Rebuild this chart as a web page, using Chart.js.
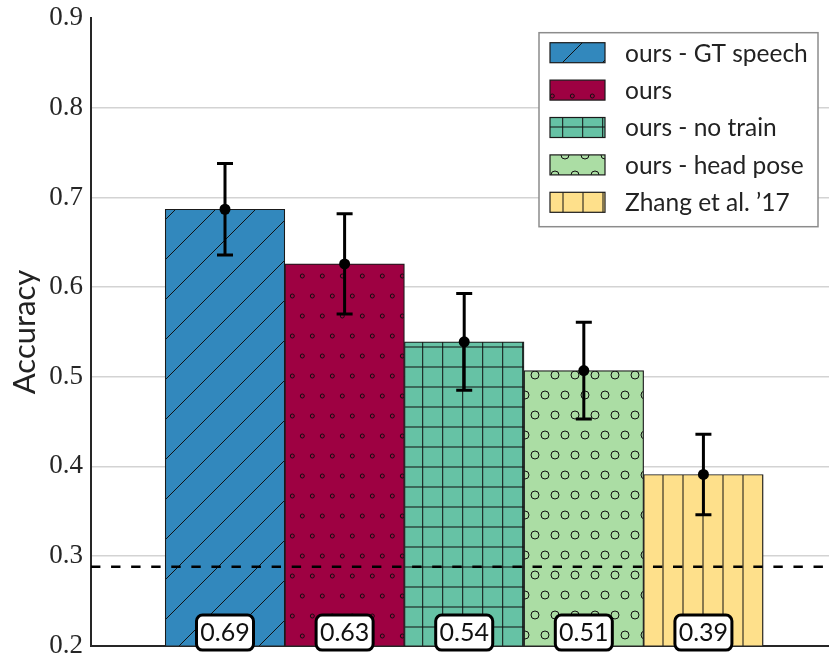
<!DOCTYPE html>
<html>
<head>
<meta charset="utf-8">
<script src="https://cdn.jsdelivr.net/npm/chart.js@4/dist/chart.umd.min.js"></script>
<style>
  html, body { margin: 0; padding: 0; background: #fff; }
  #wrap { width: 829px; height: 655px; }
</style>
</head>
<body>
<div id="wrap"><canvas id="chart" width="829" height="655"></canvas></div>
<script>
// ---- data ----
const methods = ['ours - GT speech', 'ours', 'ours - no train', 'ours - head pose', 'Zhang et al. \u201917'];
const accuracy = [0.687, 0.626, 0.539, 0.507, 0.391];
const stdErr = [0.051, 0.056, 0.054, 0.054, 0.045];
const chanceLevel = 0.288;
const yTicks = [0.2, 0.3, 0.4, 0.5, 0.6, 0.7, 0.8, 0.9];

// ---- styling ----
const fills = ['#3288bd', '#9e0142', '#66c2a5', '#abdda4', '#fee08b'];
const hatches = ['/', '.', '+', 'o', '|'];
const X_MIN = -1.1204, X_MAX = 5.05;
const SANS = 'Lato, "DejaVu Sans", sans-serif';
const SERIF = '"Liberation Serif", "DejaVu Serif", serif';

// hatch tiles, anchored to the canvas origin so all bars share one phase
function hatchPattern(color, kind) {
  const t = document.createElement('canvas');
  const w = (kind === '/') ? 40 : 20;
  const h = (kind === '/' || kind === '.' || kind === 'o') ? 40 : 20;
  t.width = w; t.height = h;
  const g = t.getContext('2d');
  g.fillStyle = color;
  g.fillRect(0, 0, w, h);
  g.strokeStyle = '#111';
  g.lineWidth = 1;
  const circles = (pts, r) => {
    for (const [cx, cy] of pts) {
      for (const dx of [-w, 0, w]) for (const dy of [-h, 0, h]) {
        g.beginPath();
        g.arc(cx + dx, cy + dy, r, 0, Math.PI * 2);
        g.stroke();
      }
    }
  };
  if (kind === '/') {
    for (const c of [-15, 25, 65, 105]) {
      g.beginPath(); g.moveTo(c + 20, -20); g.lineTo(c - 60, 60); g.stroke();
    }
  } else if (kind === '.') {
    circles([[2.3, 36], [12.3, 16]], 2);
  } else if (kind === '+') {
    g.beginPath(); g.moveTo(2.7, 0); g.lineTo(2.7, h); g.stroke();
    g.beginPath(); g.moveTo(0, 7); g.lineTo(w, 7); g.stroke();
  } else if (kind === 'o') {
    circles([[15, 15], [5, 35]], 4);
  } else if (kind === '|') {
    g.beginPath(); g.moveTo(3, 0); g.lineTo(3, h); g.stroke();
  }
  const ctx = document.getElementById('chart').getContext('2d');
  return ctx.createPattern(t, 'repeat');
}

const patterns = fills.map((c, i) => hatchPattern(c, hatches[i]));

const barSets = methods.map((name, i) => ({
  type: 'bar',
  label: name,
  data: [{ x: i, y: accuracy[i] }],
  backgroundColor: patterns[i],
  borderColor: '#1a1a1a',
  borderWidth: 1.2,
  grouped: false,
  barPercentage: 1,
  categoryPercentage: 1,
  order: 3
}));

const meanSet = {
  type: 'line',
  label: 'mean',
  data: accuracy.map((v, i) => ({ x: i, y: v })),
  showLine: false,
  pointRadius: 5.5,
  pointBackgroundColor: '#000',
  pointBorderWidth: 0,
  order: 0
};

const chanceSet = {
  type: 'line',
  label: 'chance',
  data: [{ x: X_MIN, y: chanceLevel }, { x: X_MAX, y: chanceLevel }],
  borderColor: '#000',
  borderWidth: 2.5,
  borderDash: [9.4, 10.67],
  pointRadius: 0,
  order: 1
};

// error bars with caps
const errorBars = {
  id: 'errorBars',
  afterDatasetsDraw(chart) {
    const { ctx, scales: { x, y } } = chart;
    ctx.save();
    ctx.strokeStyle = '#000';
    ctx.lineWidth = 3;
    accuracy.forEach((v, i) => {
      const px = x.getPixelForValue(i);
      const top = y.getPixelForValue(v + stdErr[i]);
      const bot = y.getPixelForValue(v - stdErr[i]);
      ctx.beginPath();
      ctx.moveTo(px, top); ctx.lineTo(px, bot);
      ctx.moveTo(px - 8, top); ctx.lineTo(px + 8, top);
      ctx.moveTo(px - 8, bot); ctx.lineTo(px + 8, bot);
      ctx.stroke();
    });
    ctx.restore();
  }
};

// rounded value boxes at the foot of each bar
const valueBoxes = {
  id: 'valueBoxes',
  afterDatasetsDraw(chart) {
    const { ctx, scales: { x }, chartArea } = chart;
    ctx.save();
    accuracy.forEach((v, i) => {
      const cx = x.getPixelForValue(i);
      const cy = chartArea.bottom - 13;
      const w = 57, h = 35;
      ctx.beginPath();
      ctx.roundRect(cx - w / 2, cy - h / 2, w, h, 6);
      ctx.fillStyle = '#fff';
      ctx.fill();
      ctx.lineWidth = 3;
      ctx.strokeStyle = '#000';
      ctx.stroke();
      ctx.fillStyle = '#111';
      ctx.font = '25px ' + SANS;
      ctx.textAlign = 'center';
      ctx.textBaseline = 'middle';
      ctx.fillText(v.toFixed(2), cx, cy);
    });
    ctx.restore();
  }
};

// framed legend in the upper right of the plot
const boxLegend = {
  id: 'boxLegend',
  afterDraw(chart) {
    const { ctx, chartArea } = chart;
    const right = chartArea.right - 11, top = chartArea.top + 14.3;
    const W = 279, H = 194;
    const left = right - W;
    ctx.save();
    ctx.fillStyle = '#fff';
    ctx.fillRect(left, top, W, H);
    ctx.strokeStyle = '#8c8c8c';
    ctx.lineWidth = 1.5;
    ctx.strokeRect(left, top, W, H);
    chart.data.datasets.filter(d => d.type === 'bar').forEach((d, i) => {
      const cy = top + 20 + i * 37.4;
      const bx = left + 11;
      ctx.fillStyle = d.backgroundColor;
      ctx.fillRect(bx, cy - 10, 55, 20);
      ctx.strokeStyle = '#1a1a1a';
      ctx.lineWidth = 1.2;
      ctx.strokeRect(bx, cy - 10, 55, 20);
      ctx.fillStyle = '#222';
      ctx.font = '24.5px ' + SANS;
      ctx.textAlign = 'left';
      ctx.textBaseline = 'middle';
      ctx.fillText(d.label, left + 86, cy + 1);
    });
    ctx.restore();
  }
};

new Chart(document.getElementById('chart'), {
  data: { datasets: [chanceSet, meanSet, ...barSets] },
  options: {
    responsive: false,
    animation: false,
    devicePixelRatio: 1,
    events: [],
    layout: { autoPadding: false, padding: { top: 18.4, right: 0, bottom: 9.4, left: 0 } },
    plugins: { legend: { display: false }, tooltip: { enabled: false } },
    scales: {
      x: {
        type: 'linear',
        offset: false,
        min: X_MIN,
        max: X_MAX,
        ticks: { display: false, stepSize: 1, includeBounds: false },
        grid: { display: false, offset: false },
        border: { display: true, color: '#262626', width: 2 },
        afterFit(s) { s.height = 0; s.paddingLeft = 0; s.paddingRight = 0; }
      },
      y: {
        type: 'linear',
        min: 0.2,
        max: 0.9,
        afterBuildTicks(s) { s.ticks = yTicks.map(v => ({ value: v })); },
        ticks: {
          padding: 8,
          color: '#262626',
          font: { family: SERIF, size: 27, lineHeight: 1 },
          callback: v => v.toFixed(1)
        },
        grid: {
          drawTicks: false,
          lineWidth: 1.5,
          color: c => (c.tick && c.tick.value >= 0.9) ? 'rgba(0,0,0,0)' : '#d3d3d3'
        },
        border: { display: true, color: '#262626', width: 2 },
        title: {
          display: true,
          text: 'Accuracy',
          color: '#222',
          font: { family: SANS, size: 31, lineHeight: 1 },
          padding: { top: 9.5, bottom: 0 }
        },
        afterFit(s) { s.width = 91; s.paddingTop = 0; s.paddingBottom = 0; }
      }
    }
  },
  plugins: [errorBars, valueBoxes, boxLegend]
});
</script>
</body>
</html>
